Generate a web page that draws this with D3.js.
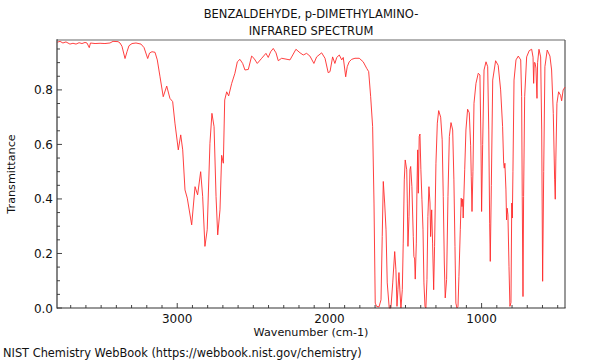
<!DOCTYPE html>
<html><head><meta charset="utf-8">
<script src="https://cdn.jsdelivr.net/npm/d3@7"></script>
<style>body{margin:0;background:#fff}svg{display:block;font-family:"DejaVu Sans",sans-serif}</style>
</head><body><svg id="c" width="600" height="360"></svg>
<script>
const titleLines = ["BENZALDEHYDE, p-DIMETHYLAMINO-", "INFRARED SPECTRUM"];
const xLabel = "Wavenumber (cm-1)";
const yLabel = "Transmittance";
const footer = "NIST Chemistry WebBook (https://webbook.nist.gov/chemistry)";
const xTicks = [3000, 2000, 1000];
const yTicks = [0.0, 0.2, 0.4, 0.6, 0.8];
const wavenumber = [3788,3770,3751,3731,3705,3685,3665,3645,3626,3606,3593,3578,3570,3540,3507,3475,3442,3422,3389,3376,3363,3343,3330,3317,3297,3271,3238,3218,3194,3182,3166,3146,3131,3113,3092,3069,3048,3030,3015,2993,2977,2964,2949,2934,2905,2883,2866,2846,2833,2818,2803,2785,2772,2758,2745,2734,2719,2708,2697,2688,2675,2662,2642,2621,2605,2588,2570,2555,2533,2511,2496,2474,2445,2417,2402,2386,2369,2351,2336,2314,2259,2241,2220,2193,2172,2150,2128,2102,2084,2051,2029,2008,1996,1979,1964,1952,1935,1919,1909,1893,1883,1870,1854,1832,1804,1778,1755,1742,1729,1716,1707,1699,1690,1674,1661,1653,1646,1637,1628,1620,1607,1596,1584,1571,1563,1556,1550,1543,1536,1530,1521,1515,1508,1502,1492,1488,1484,1477,1471,1466,1458,1449,1445,1440,1436,1429,1425,1420,1416,1410,1405,1399,1392,1385,1379,1372,1366,1359,1353,1346,1339,1335,1328,1322,1315,1309,1300,1291,1282,1269,1259,1252,1245,1239,1230,1221,1212,1201,1190,1182,1175,1169,1162,1155,1149,1140,1134,1129,1124,1121,1111,1103,1092,1081,1072,1068,1063,1057,1050,1037,1022,1011,1004,1000,993,984,971,960,953,947,943,936,927,908,891,875,862,855,851,847,840,836,832,827,820,814,807,802,798,794,787,774,759,743,737,733,728,724,717,704,687,671,662,658,654,649,643,636,632,623,612,605,599,592,584,569,551,540,529,520,516,512,505,494,481,474,464,452];
const transmittance = [0.975,0.978,0.972,0.976,0.968,0.971,0.968,0.973,0.970,0.974,0.972,0.955,0.972,0.970,0.971,0.970,0.972,0.978,0.977,0.972,0.960,0.915,0.940,0.962,0.970,0.972,0.968,0.955,0.915,0.935,0.940,0.938,0.910,0.848,0.775,0.814,0.769,0.757,0.678,0.580,0.635,0.580,0.433,0.403,0.305,0.445,0.415,0.500,0.410,0.226,0.287,0.604,0.714,0.665,0.409,0.268,0.360,0.560,0.531,0.763,0.793,0.778,0.824,0.861,0.903,0.912,0.897,0.873,0.875,0.924,0.916,0.897,0.916,0.934,0.919,0.940,0.952,0.936,0.907,0.916,0.910,0.928,0.949,0.936,0.928,0.934,0.924,0.897,0.921,0.936,0.916,0.863,0.867,0.921,0.897,0.919,0.928,0.910,0.919,0.848,0.885,0.903,0.912,0.916,0.916,0.903,0.879,0.867,0.775,0.665,0.385,0.018,0.006,0.004,0.030,0.262,0.464,0.385,0.287,0.092,0.000,0.000,0.092,0.207,0.140,0.006,0.067,0.130,0.055,0.000,0.067,0.238,0.470,0.543,0.507,0.385,0.226,0.336,0.507,0.519,0.445,0.262,0.189,0.180,0.106,0.238,0.433,0.580,0.421,0.629,0.638,0.507,0.397,0.287,0.092,0.006,0.000,0.104,0.336,0.445,0.385,0.262,0.360,0.238,0.067,0.226,0.531,0.678,0.724,0.700,0.617,0.409,0.165,0.037,0.104,0.409,0.629,0.680,0.653,0.470,0.226,0.018,0.000,0.006,0.116,0.287,0.403,0.372,0.400,0.330,0.507,0.653,0.729,0.716,0.595,0.482,0.354,0.500,0.751,0.824,0.861,0.855,0.595,0.354,0.600,0.873,0.903,0.885,0.653,0.311,0.171,0.450,0.836,0.907,0.890,0.800,0.665,0.531,0.513,0.531,0.433,0.323,0.366,0.342,0.153,0.006,0.020,0.385,0.330,0.500,0.836,0.910,0.924,0.910,0.775,0.409,0.042,0.409,0.775,0.921,0.944,0.949,0.920,0.824,0.900,0.900,0.880,0.769,0.900,0.949,0.921,0.653,0.098,0.500,0.885,0.946,0.924,0.873,0.714,0.470,0.399,0.550,0.751,0.793,0.780,0.760,0.800,0.810];

const svg = d3.select("#c");
const L = 57, R = 565, T = 40, B = 308;
const x = d3.scaleLinear().domain([3790, 452]).range([L, R]);
const y = d3.scaleLinear().domain([0, 0.983]).range([B, T]);

// titles
svg.selectAll("text.title").data(titleLines).enter().append("text")
  .attr("x", (L + R) / 2).attr("y", (d, i) => 17.5 + i * 17)
  .attr("text-anchor", "middle").attr("font-size", 11.5).attr("fill", "#111").text(d => d);

// frame top/right
svg.append("line").attr("x1", L).attr("x2", R).attr("y1", T).attr("y2", T).attr("stroke", "#9a9a9a").attr("stroke-width", 1.5);
svg.append("line").attr("x1", R).attr("x2", R).attr("y1", T).attr("y2", B).attr("stroke", "#555").attr("stroke-width", 1.2);

// spectrum
const data = wavenumber.map((w, i) => [w, transmittance[i]]);
svg.append("path").datum(data)
  .attr("fill", "none").attr("stroke", "#ff2a2a").attr("stroke-width", 0.9)
  .attr("stroke-linejoin", "round")
  .attr("d", d3.line().x(d => x(d[0])).y(d => y(d[1])));

// bottom axis
const gx = svg.append("g").attr("transform", `translate(0,${B})`);
const xMinor = d3.range(3700, 452, -100);
gx.selectAll("line.minor").data(xMinor.filter(v => v % 1000 !== 0)).enter().append("line")
  .attr("x1", d => x(d)).attr("x2", d => x(d)).attr("y1", 0).attr("y2", -3).attr("stroke", "#444");
gx.selectAll("line.major").data(xTicks).enter().append("line")
  .attr("x1", d => x(d)).attr("x2", d => x(d)).attr("y1", 0).attr("y2", -5).attr("stroke", "#444");
gx.selectAll("text").data(xTicks).enter().append("text")
  .attr("x", d => x(d)).attr("y", 14.5).attr("text-anchor", "middle").attr("font-size", 12).attr("fill", "#111")
  .text(d => d3.format("d")(d));
gx.append("line").attr("x1", L).attr("x2", R + 0.6).attr("stroke", "#333").attr("stroke-width", 1.2);

// left axis
const gy = svg.append("g").attr("transform", `translate(${L},0)`);
const yMinor = d3.range(0.05, 0.98, 0.05).map(v => +v.toFixed(2)).filter(v => Math.round(v * 100) % 20 !== 0);
gy.selectAll("line.minor").data(yMinor).enter().append("line")
  .attr("x1", 0).attr("x2", 3).attr("y1", d => y(d)).attr("y2", d => y(d)).attr("stroke", "#444");
gy.selectAll("line.major").data(yTicks).enter().append("line")
  .attr("x1", 0).attr("x2", 5).attr("y1", d => y(d)).attr("y2", d => y(d)).attr("stroke", "#444");
gy.selectAll("text").data(yTicks).enter().append("text")
  .attr("x", -4).attr("y", d => y(d) + 4.5).attr("text-anchor", "end").attr("font-size", 12).attr("fill", "#111")
  .text(d => d3.format(".1f")(d));
gy.append("line").attr("y1", T - 0.7).attr("y2", B + 0.6).attr("stroke", "#333").attr("stroke-width", 1.2);

// labels
svg.append("text").attr("x", (L + R) / 2).attr("y", 335.5).attr("text-anchor", "middle").attr("font-size", 11.2).attr("fill", "#111").text(xLabel);
svg.append("text").attr("transform", `translate(15,${(T + B) / 2}) rotate(-90)`).attr("text-anchor", "middle").attr("font-size", 11.2).attr("fill", "#111").text(yLabel);
svg.append("text").attr("x", 3).attr("y", 357).attr("font-size", 11.4).attr("fill", "#111").text(footer);
</script></body></html>
